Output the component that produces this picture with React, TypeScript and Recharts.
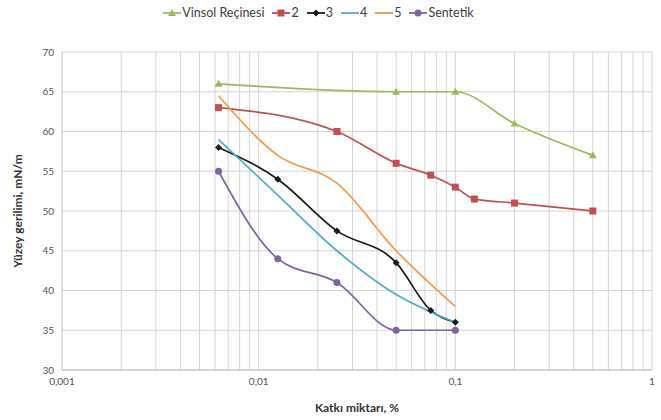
import { LineChart, Line, XAxis, YAxis, CartesianGrid, ReferenceLine, Legend, Label } from "recharts";

const vinsolX = [0.00625, 0.05, 0.1, 0.2, 0.5];
const vinsolY = [66, 65, 65, 61, 57];

const s2X = [0.00625, 0.025, 0.05, 0.075, 0.1, 0.125, 0.2, 0.5];
const s2Y = [63, 60, 56, 54.5, 53, 51.5, 51, 50];

const s3X = [0.00625, 0.0125, 0.025, 0.05, 0.075, 0.1];
const s3Y = [58, 54, 47.5, 43.5, 37.5, 36];

const s4X = [0.00625, 0.0125, 0.025, 0.05, 0.075, 0.1];
const s4Y = [59, 52, 45, 39.5, 37.3, 36];

const s5X = [0.00625, 0.0125, 0.025, 0.05, 0.1];
const s5Y = [64.5, 57, 53.5, 45, 38];

const sentetikX = [0.00625, 0.0125, 0.025, 0.05, 0.1];
const sentetikY = [55, 44, 41, 35, 35];

const xTicks = [0.001, 0.01, 0.1, 1];
const yTicks = [30, 35, 40, 45, 50, 55, 60, 65, 70];
const minorGrid = [
  0.002, 0.003, 0.004, 0.005, 0.006, 0.007, 0.008, 0.009, 0.01,
  0.02, 0.03, 0.04, 0.05, 0.06, 0.07, 0.08, 0.09, 0.1,
  0.2, 0.3, 0.4, 0.5, 0.6, 0.7, 0.8, 0.9, 1,
];

const toPoints = (xs: number[], ys: number[]) => xs.map((x, i) => ({ x, y: ys[i] }));

type Marker = "triangle" | "square" | "diamond" | "none" | "circle";

const series: { name: string; color: string; marker: Marker; data: { x: number; y: number }[] }[] = [
  { name: "Vinsol Reçinesi", color: "#9bbb59", marker: "triangle", data: toPoints(vinsolX, vinsolY) },
  { name: "2", color: "#c0504d", marker: "square", data: toPoints(s2X, s2Y) },
  { name: "3", color: "#1a1a1a", marker: "diamond", data: toPoints(s3X, s3Y) },
  { name: "4", color: "#4bacc6", marker: "none", data: toPoints(s4X, s4Y) },
  { name: "5", color: "#f79646", marker: "none", data: toPoints(s5X, s5Y) },
  { name: "Sentetik", color: "#8064a2", marker: "circle", data: toPoints(sentetikX, sentetikY) },
];

function drawMarker(marker: Marker, color: string, cx: number, cy: number, key?: string | number) {
  if (marker === "square") return <rect key={key} x={cx - 3.5} y={cy - 3.5} width={7} height={7} fill={color} />;
  if (marker === "triangle")
    return <polygon key={key} points={`${cx},${cy - 4} ${cx + 4},${cy + 3} ${cx - 4},${cy + 3}`} fill={color} />;
  if (marker === "diamond")
    return <polygon key={key} points={`${cx},${cy - 3.5} ${cx + 3.5},${cy} ${cx},${cy + 3.5} ${cx - 3.5},${cy}`} fill={color} />;
  if (marker === "circle") return <circle key={key} cx={cx} cy={cy} r={3.5} fill={color} />;
  return <g key={key} />;
}

function LegendContent() {
  return (
    <div style={{ display: "flex", justifyContent: "center", gap: 8, fontFamily: "Lato, sans-serif", fontSize: 12.5, color: "#404040", paddingRight: 15 }}>
      {series.map((s) => (
        <span key={s.name} style={{ display: "inline-flex", alignItems: "center" }}>
          <svg width={18} height={10} style={{ marginRight: 1 }}>
            <line x1={0} y1={5} x2={18} y2={5} stroke={s.color} strokeWidth={1.8} />
            {drawMarker(s.marker, s.color, 9, 5)}
          </svg>
          {s.name}
        </span>
      ))}
    </div>
  );
}

export default function App() {
  return (
    <div style={{ position: "absolute", left: 0, top: 0, background: "#fff" }}>
      <LineChart width={661} height={420} margin={{ top: 37, right: 9, left: 0, bottom: 0 }}>
        <CartesianGrid vertical={false} stroke="#d4d4d4" />
        {minorGrid.map((v) => (
          <ReferenceLine key={v} x={v} stroke="#d4d4d4" />
        ))}
        <XAxis
          type="number"
          dataKey="x"
          scale="log"
          domain={[0.001, 1]}
          ticks={xTicks}
          allowDataOverflow
          height={50}
          tickLine={false}
          axisLine={{ stroke: "#bfbfbf" }}
          tick={{ fontSize: 10, fill: "#555", fontFamily: "Lato, sans-serif" }}
          tickFormatter={(v: number) => String(v).replace(".", ",")}
        >
          <Label value="Katkı miktarı, %" position="insideBottom" offset={8} style={{ fontSize: 12, fontWeight: 700, fill: "#333", fontFamily: "Lato, sans-serif" }} />
        </XAxis>
        <YAxis
          type="number"
          domain={[30, 70]}
          ticks={yTicks}
          width={62}
          tickLine={false}
          axisLine={{ stroke: "#bfbfbf" }}
          tick={{ fontSize: 10, fill: "#555", fontFamily: "Lato, sans-serif" }}
        >
          <Label value="Yüzey gerilimi, mN/m" angle={-90} position="insideLeft" offset={18} style={{ textAnchor: "middle", fontSize: 12, fontWeight: 700, fill: "#333", fontFamily: "Lato, sans-serif" }} />
        </YAxis>
        <Legend verticalAlign="top" align="center" wrapperStyle={{ top: 5 }} content={() => <LegendContent />} />
        {series.map((s) => (
          <Line
            key={s.name}
            data={s.data}
            dataKey="y"
            name={s.name}
            type="monotone"
            stroke={s.color}
            strokeWidth={1.7}
            isAnimationActive={false}
            dot={(p: any) => drawMarker(s.marker, s.color, p.cx, p.cy, `${s.name}-${p.index}`)}
            activeDot={false}
          />
        ))}
      </LineChart>
    </div>
  );
}
